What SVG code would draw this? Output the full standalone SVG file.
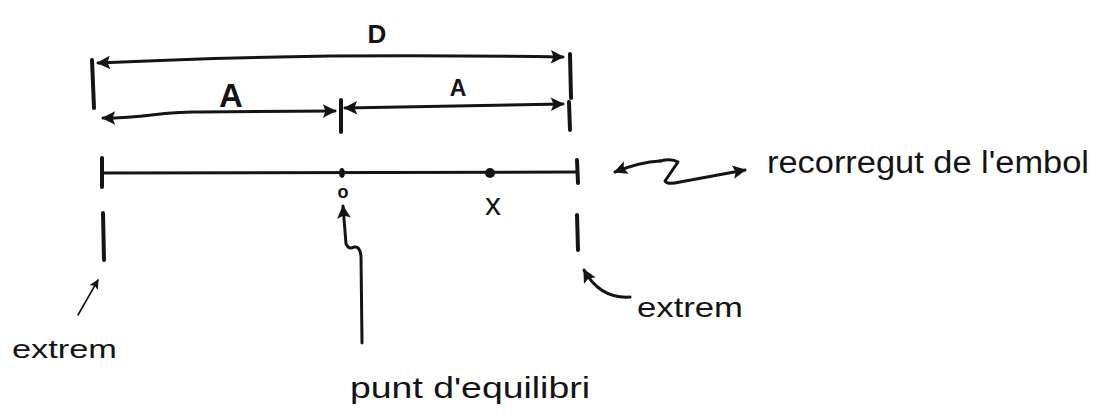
<svg xmlns="http://www.w3.org/2000/svg" width="1109" height="415" viewBox="0 0 1109 415">
<defs>
<style>
.ln{fill:none;stroke:#141414;stroke-width:3;stroke-linecap:round;stroke-linejoin:round}
.tk{fill:none;stroke:#141414;stroke-width:4;stroke-linecap:round}
.thin{fill:none;stroke:#141414;stroke-width:1.6;stroke-linecap:round}
.t{font-family:"Liberation Sans",Arial,sans-serif;fill:#141414}
.lbl{font-family:"Liberation Sans",Arial,sans-serif;fill:#141414;font-weight:bold;text-anchor:middle}
</style>
<marker id="ah" viewBox="0 0 10 10" refX="9" refY="5" markerWidth="6" markerHeight="4.5" orient="auto-start-reverse" markerUnits="strokeWidth">
<path d="M0,0 L10,5 L0,10 L2,5 Z" fill="#141414"/>
</marker>
<marker id="ahs" viewBox="0 0 10 10" refX="9" refY="5" markerWidth="6" markerHeight="6" orient="auto-start-reverse" markerUnits="strokeWidth">
<path d="M0,0 L10,5 L0,10 L2,5 Z" fill="#141414"/>
</marker>
</defs>
<rect width="1109" height="415" fill="#ffffff"/>

<g id="connectors">
<path class="ln" d="M98 63 Q200 58 330 56 Q450 55 563 57" marker-start="url(#ah)" marker-end="url(#ah)"/>
<path class="ln" d="M103 118 C150 118 160 111 200 112 L335 111" marker-start="url(#ah)" marker-end="url(#ah)"/>
<path class="ln" d="M345 108 L563 104" marker-start="url(#ah)" marker-end="url(#ah)"/>
<path class="ln" d="M660 161 Q640 162 615 172" marker-end="url(#ah)"/>
<path class="ln" d="M660 161 Q672 158 678 162 L665 181 Q667 185 680 182 L745 170" marker-end="url(#ah)"/>
<path class="ln" d="M362 343 L361 256 Q360 246 354 247 Q349 250 346 244 L343 206" marker-end="url(#ah)"/>
<path class="thin" d="M78 315 L98 280" marker-end="url(#ahs)"/>
<path class="ln" d="M630 297 Q600 299 584 270" marker-end="url(#ah)"/>
</g>

<g id="dimension-D">
<line class="tk" x1="92" y1="60" x2="94" y2="108"/>
<line class="tk" x1="570" y1="54" x2="571" y2="98"/>
<text class="lbl" x="377" y="43" font-size="26">D</text>
</g>

<g id="dimension-A-left">
<text class="lbl" x="231" y="107" font-size="33">A</text>
</g>

<g id="dimension-A-right">
<line class="tk" x1="341" y1="100" x2="341" y2="132"/>
<line class="tk" x1="569" y1="102" x2="570" y2="130"/>
<text class="lbl" x="458" y="96" font-size="23">A</text>
</g>

<g id="stroke-line">
<line class="ln" x1="103" y1="173" x2="577" y2="172"/>
<line class="tk" x1="102" y1="158" x2="102" y2="187"/>
<line class="tk" x1="577" y1="160" x2="578" y2="183"/>
<ellipse cx="342" cy="173" rx="3" ry="5" fill="#141414"/>
<circle cx="490" cy="173" r="5" fill="#141414"/>
<text class="t" x="343" y="198" font-size="18" text-anchor="middle" font-weight="bold">o</text>
<text class="t" x="493" y="215" font-size="32" text-anchor="middle">x</text>
</g>

<g id="label-recorregut">
<text class="t" x="767" y="173" font-size="31" textLength="322" lengthAdjust="spacingAndGlyphs">recorregut de l'embol</text>
</g>

<g id="extrem-left">
<line class="tk" x1="103" y1="213" x2="104" y2="260"/>
<text class="t" x="12" y="358" font-size="26" textLength="105" lengthAdjust="spacingAndGlyphs">extrem</text>
</g>

<g id="extrem-right">
<line class="tk" x1="577" y1="215" x2="578" y2="250"/>
<text class="t" x="637" y="317" font-size="28" textLength="106" lengthAdjust="spacingAndGlyphs">extrem</text>
</g>

<g id="equilibrium-point">
<text class="t" x="350" y="398" font-size="30" textLength="240" lengthAdjust="spacingAndGlyphs">punt d'equilibri</text>
</g>
</svg>
